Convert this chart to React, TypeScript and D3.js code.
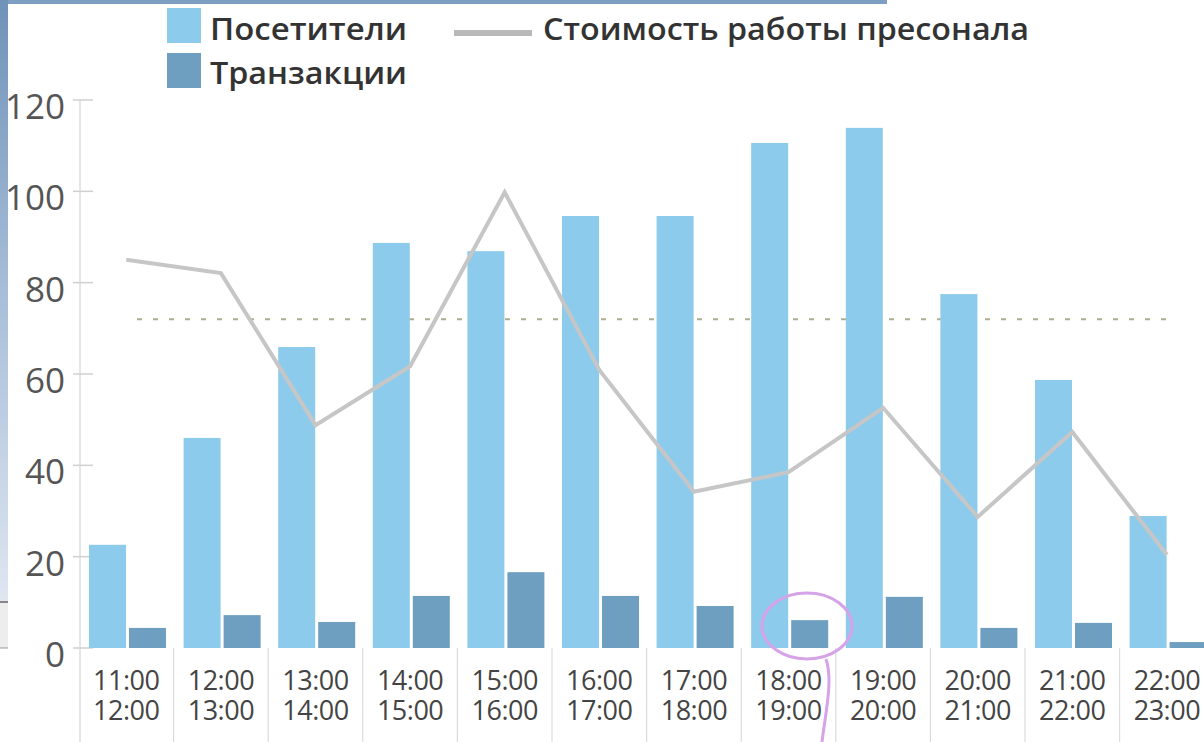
import React from "react";
import * as d3 from "d3";

const categories = ["11:00–12:00","12:00–13:00","13:00–14:00","14:00–15:00","15:00–16:00","16:00–17:00","17:00–18:00","18:00–19:00","19:00–20:00","20:00–21:00","21:00–22:00","22:00–23:00"];
const labelTop = ["11:00","12:00","13:00","14:00","15:00","16:00","17:00","18:00","19:00","20:00","21:00","22:00"];
const labelBottom = ["12:00","13:00","14:00","15:00","16:00","17:00","18:00","19:00","20:00","21:00","22:00","23:00"];
const visitors = [22.6, 46, 65.9, 88.7, 86.9, 94.6, 94.6, 110.6, 113.9, 77.5, 58.7, 28.9];
const transactions = [4.4, 7.2, 5.7, 11.4, 16.6, 11.4, 9.2, 6.1, 11.2, 4.4, 5.5, 1.3];
const laborCost = [85, 82.1, 48.8, 61.7, 99.8, 60.9, 34.2, 38.5, 52.6, 28.7, 47.3, 20.4];
const targetLevel = 72;
const yTicks = [0, 20, 40, 60, 80, 100, 120];
const seriesNames = ["Посетители", "Транзакции", "Стоимость работы пресонала"];

const W = 1204, H = 742;
const X0 = 79, STEP = 94.6;
const LIGHT = "#8dcbec", DARK = "#6e9fc0", LINE = "#c6c6c6";
const FONT = "'Open Sans', 'Noto Sans', sans-serif";

export default function App() {
  const x = d3.scaleBand<string>().domain(categories).range([X0, X0 + STEP * categories.length]).padding(0);
  const inner = d3.scaleBand<string>().domain(["v", "t"]).range([10, 87]).paddingInner(0.075).paddingOuter(0);
  const y = d3.scaleLinear().domain([0, 120]).range([648, 100]);
  const line = d3.line<number>()
    .x((_, i) => (x(categories[i]) as number) + x.bandwidth() / 2)
    .y((d) => y(d));

  return (
    <svg width={W} height={H} style={{ position: "absolute", left: 0, top: 0, background: "#fff" }} fontFamily={FONT}>
      <defs>
        <linearGradient id="leftStrip" x1="0" y1="0" x2="0" y2="1">
          <stop offset="0" stopColor="#6f92b8" />
          <stop offset="0.5" stopColor="#a9bfd9" />
          <stop offset="1" stopColor="#dfe6f0" />
        </linearGradient>
      </defs>
      <rect x={0} y={0} width={W} height={H} fill="#fff" />
      {/* slide decoration */}
      <rect x={0} y={0} width={887} height={4} fill="#7f9fc2" />
      <rect x={0} y={0} width={8} height={602} fill="url(#leftStrip)" />
      <rect x={0} y={602} width={8} height={46} fill="#ededed" />
      <line x1={0} x2={8} y1={602} y2={602} stroke="#666" strokeWidth={1.5} />
      <line x1={0} x2={8} y1={648} y2={648} stroke="#999" strokeWidth={1} />

      {/* y axis */}
      <line x1={80} x2={80} y1={100} y2={H} stroke="#dcdcdc" strokeWidth={1.5} />
      {yTicks.map((t) => (
        <g key={t}>
          <line x1={73} x2={93} y1={y(t)} y2={y(t)} stroke="#d0d0d0" strokeWidth={1.5} />
          <text x={65} y={y(t) + 19} textAnchor="end" fontSize={35} fill="#555">{t}</text>
        </g>
      ))}

      {/* category separators */}
      {categories.slice(1).map((c) => (
        <line key={c} x1={x(c)} x2={x(c)} y1={648} y2={H} stroke="#dcdcdc" strokeWidth={1.2} />
      ))}

      {/* target dotted line */}
      <line x1={137} x2={1173} y1={y(targetLevel)} y2={y(targetLevel)} stroke="#b0ad88" strokeWidth={2} strokeDasharray="5,11" />

      {/* bars */}
      {categories.map((c, i) => (
        <g key={c}>
          <rect x={(x(c) as number) + (inner("v") as number)} y={y(visitors[i])} width={inner.bandwidth()} height={y(0) - y(visitors[i])} fill={LIGHT} />
          <rect x={(x(c) as number) + (inner("t") as number)} y={y(transactions[i])} width={inner.bandwidth()} height={y(0) - y(transactions[i])} fill={DARK} />
        </g>
      ))}

      {/* labor cost line */}
      <path d={line(laborCost) || ""} fill="none" stroke={LINE} strokeWidth={4} strokeLinejoin="miter" />

      {/* x labels */}
      {categories.map((c, i) => {
        const cx = (x(c) as number) + x.bandwidth() / 2;
        return (
          <text key={c} fontSize={27} fill="#444" textAnchor="middle" letterSpacing={-0.5}>
            <tspan x={cx} y={690}>{labelTop[i]}</tspan>
            <tspan x={cx} y={720}>{labelBottom[i]}</tspan>
          </text>
        );
      })}

      {/* legend */}
      <rect x={167} y={8} width={34} height={35} fill={LIGHT} />
      <text x={210} y={40} fontSize={30} fontWeight={600} fill="#333" textLength={197} lengthAdjust="spacingAndGlyphs">{seriesNames[0]}</text>
      <rect x={167} y={53} width={34} height={35} fill={DARK} />
      <text x={210} y={84} fontSize={30} fontWeight={600} fill="#333" textLength={197} lengthAdjust="spacingAndGlyphs">{seriesNames[1]}</text>
      <line x1={454} x2={532} y1={33} y2={33} stroke="#b8b8b8" strokeWidth={6} />
      <text x={543} y={40} fontSize={30} fontWeight={600} fill="#333" textLength={486} lengthAdjust="spacingAndGlyphs">{seriesNames[2]}</text>

      {/* hand-drawn annotation */}
      <ellipse cx={807} cy={626} rx={45} ry={33} fill="none" stroke="#d6a2e8" strokeWidth={3} />
      <path d="M826,659 C833,680 826,710 822,742" fill="none" stroke="#d6a2e8" strokeWidth={3} />
    </svg>
  );
}
